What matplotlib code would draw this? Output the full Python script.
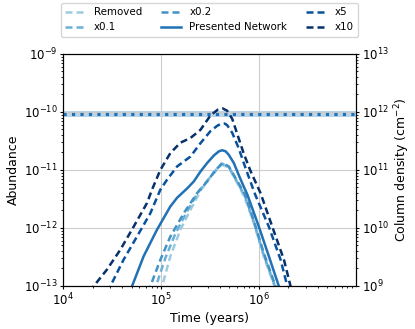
import numpy as np
import matplotlib
matplotlib.use("Agg")
import matplotlib.pyplot as plt

# log10(time in years) and log10(abundance)
labels = ["Removed", "x0.1", "x0.2", "Presented Network", "x5", "x10"]
colors = ["#9ecae1", "#6baed6", "#4292c6", "#2171b5", "#08519c", "#08306b"]
styles = ["--", "--", "--", "-", "--", "--"]

removed_t = [4.96, 5.010, 5.095, 5.198, 5.300, 5.402, 5.505, 5.570, 5.624, 5.692, 5.743, 5.812, 5.863, 5.948, 6.050, 6.160, 6.20]
removed_a = [-13.3, -13.01, -12.49, -12.03, -11.69, -11.36, -11.12, -10.98, -10.91, -10.96, -11.12, -11.33, -11.52, -11.92, -12.50, -13.01, -13.25]

x01_t = [4.90, 4.947, 5.044, 5.146, 5.264, 5.380, 5.484, 5.556, 5.624, 5.692, 5.743, 5.812, 5.863, 5.948, 6.050, 6.165, 6.20]
x01_a = [-13.3, -13.01, -12.52, -12.10, -11.72, -11.38, -11.16, -11.02, -10.89, -10.95, -11.10, -11.31, -11.48, -11.90, -12.47, -13.01, -13.25]

x02_t = [4.85, 4.890, 4.993, 5.095, 5.231, 5.368, 5.471, 5.535, 5.624, 5.692, 5.743, 5.812, 5.863, 5.948, 6.050, 6.170, 6.21]
x02_a = [-13.3, -13.01, -12.55, -12.15, -11.75, -11.40, -11.20, -11.05, -10.88, -10.94, -11.09, -11.29, -11.45, -11.88, -12.44, -13.01, -13.25]

presented_t = [4.66, 4.703, 4.822, 4.959, 5.095, 5.164, 5.266, 5.334, 5.402, 5.471, 5.540, 5.590, 5.625, 5.660, 5.692, 5.743, 5.794, 5.845, 5.880, 5.999, 6.101, 6.204, 6.24]
presented_a = [-13.3, -13.01, -12.49, -12.03, -11.63, -11.48, -11.32, -11.20, -11.03, -10.88, -10.75, -10.68, -10.66, -10.68, -10.74, -10.88, -11.09, -11.29, -11.42, -11.98, -12.49, -13.01, -13.25]

x5_t = [4.43, 4.481, 4.617, 4.754, 4.890, 4.993, 5.061, 5.164, 5.300, 5.402, 5.505, 5.573, 5.615, 5.650, 5.676, 5.727, 5.794, 5.863, 5.960, 6.101, 6.221, 6.290, 6.32]
x5_a = [-13.3, -13.01, -12.55, -12.15, -11.75, -11.34, -11.17, -10.94, -10.77, -10.54, -10.33, -10.24, -10.20, -10.20, -10.23, -10.36, -10.63, -10.97, -11.42, -11.98, -12.55, -13.01, -13.25]

x10_t = [4.26, 4.310, 4.447, 4.583, 4.720, 4.857, 4.908, 4.993, 5.095, 5.198, 5.300, 5.402, 5.505, 5.580, 5.630, 5.676, 5.727, 5.778, 5.845, 5.914, 6.016, 6.136, 6.255, 6.323, 6.35]
x10_a = [-13.3, -13.01, -12.72, -12.38, -11.98, -11.57, -11.34, -11.00, -10.71, -10.53, -10.45, -10.31, -10.06, -9.96, -9.94, -9.98, -10.12, -10.38, -10.72, -11.02, -11.40, -11.98, -12.55, -13.01, -13.25]

series = [(removed_t, removed_a), (x01_t, x01_a), (x02_t, x02_a),
          (presented_t, presented_a), (x5_t, x5_a), (x10_t, x10_a)]

observed = 9.3e-11
observed_lo, observed_hi = 8.3e-11, 1.05e-10

fig, ax = plt.subplots(figsize=(4.15, 3.29), dpi=100)
fig.subplots_adjust(left=0.152, right=0.858, top=0.836, bottom=0.131)

ax.axhspan(observed_lo, observed_hi, color="#2171b5", alpha=0.3, lw=0)
ax.axhline(observed, color="#2171b5", ls=":", lw=2.3)

for (t, a), lab, c, s in zip(series, labels, colors, styles):
    line, = ax.plot(10 ** np.array(t), 10 ** np.array(a), ls=s, color=c, lw=1.8, label=lab)
    if s == "--":
        line.set_dashes((2.8, 1.6))

ax.set_xscale("log")
ax.set_yscale("log")
ax.set_xlim(1e4, 0.98e7)
ax.set_ylim(1e-13, 1e-9)
ax.grid(True, which="major", color="#cccccc", lw=0.8)
ax.tick_params(which="major", labelsize=8.5, length=2.5, pad=1.5)
ax.tick_params(which="minor", length=1.5)
ax.set_xlabel("Time (years)", fontsize=9, labelpad=3)
ax.set_ylabel("Abundance", fontsize=9, labelpad=3)

ax2 = ax.twinx()
ax2.set_yscale("log")
ax2.set_ylim(1e9, 1e13)
ax2.tick_params(which="major", labelsize=8.5, length=2.5, pad=1.5)
ax2.tick_params(which="minor", length=1.5)
ax2.set_ylabel("Column density (cm$^{-2}$)", fontsize=9, labelpad=3)

ax.legend(bbox_to_anchor=(-0.008, 1.075, 1.014, 0.14), loc="lower left", mode="expand",
          ncol=3, fontsize=7.4, borderaxespad=0)

plt.savefig("out.png", dpi=100)
